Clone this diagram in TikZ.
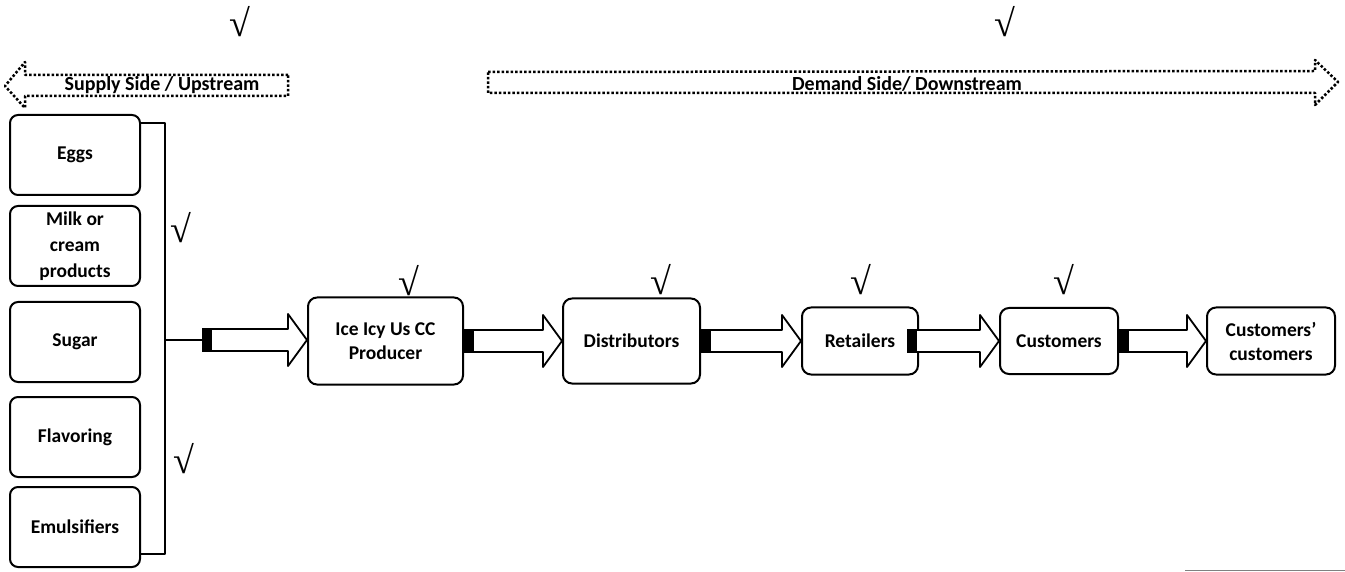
\documentclass[tikz,border=0pt]{standalone}
\usepackage{fontspec}
\setmainfont{Carlito}
\newfontfamily\chkfont{Liberation Serif}
\usetikzlibrary{calc, positioning}

% fat outlined arrow with a black tail, from #1 to #2.west
\newcommand{\fatarrow}[2]{%
    \fill let \p1=(#1) in (\x1,\y1-12pt) rectangle (\x1+9pt,\y1+12pt);
    \draw[fat] let \p1=(#1), \p2=(#2.west) in
        (\x1+9pt,\y1-11pt) -- (\x2-19pt,\y1-11pt) -- (\x2-19pt,\y1-26pt) -- (\x2,\y1)
        -- (\x2-19pt,\y1+26pt) -- (\x2-19pt,\y1+11pt) -- (\x1+9pt,\y1+11pt) -- cycle;
}

\begin{document}
\begin{tikzpicture}
    [
        x=1pt, y=-1pt, line join=round,
        supbox/.style={draw, rounded corners=8pt, line width=2pt, minimum width=130pt, minimum height=80pt, inner sep=2pt, align=center, font=\fontsize{19.5}{26}\selectfont\bfseries},
        flowbox/.style={draw, rounded corners=9pt, line width=2pt, inner sep=2pt, align=center, font=\fontsize{19.5}{24}\selectfont\bfseries},
        fat/.style={draw, fill=white, line width=1.8pt},
        dotline/.style={line width=2.5pt, dash pattern=on 2.5pt off 2pt},
        sidelabel/.style={anchor=base, inner sep=0pt, font=\fontsize{20}{24}\selectfont\bfseries},
        chk/.style={inner sep=0pt, font=\chkfont\fontsize{38}{38}\selectfont}
    ]
    \useasboundingbox (0,0) rectangle (1345,572);

    % supply / demand banners
    \draw[dotline] (288,75) -- (25,75) -- (25,62) -- (5,86) -- (25,108) -- (25,96) -- (288,96) -- cycle;
    \draw[dotline] (488,72) -- (1315,71) -- (1315,60) -- (1338,82) -- (1315,105) -- (1315,93) -- (488,93) -- cycle;
    \node[sidelabel] (supply) at (162,91) {Supply Side / Upstream};
    \node[sidelabel] (demand) at (907,91) {Demand Side/ Downstream};

    % raw materials
    \node[supbox] (eggs) at (75,155) {Eggs};
    \node[supbox, below of=eggs, node distance=91pt] (milk) {Milk or\\cream\\products};
    \node[supbox, below of=milk, node distance=96pt] (sugar) {Sugar};
    \node[supbox, below of=sugar, node distance=95pt] (flavor) {Flavoring};
    \node[supbox, below of=flavor, node distance=90pt] (emuls) {Emulsifiers};

    % bracket
    \draw[line width=2.5pt] ([yshift=-9pt]eggs.north east) -- ++(24,0) |- ([yshift=14pt]emuls.south east);
    \coordinate (bracemid) at (164,340);
    \coordinate (brace) at (202,340);
    \draw[line width=2.5pt] (bracemid) -- (brace);

    % chain
    \node[flowbox, minimum width=155pt, minimum height=87pt] (producer) at (385.5,341) {Ice Icy Us CC\\Producer};
    \node[flowbox, minimum width=137pt, minimum height=85pt, right of=producer, node distance=246pt] (distrib) {Distributors};
    \node[flowbox, minimum width=116pt, minimum height=67pt, right of=distrib, node distance=228.5pt] (retail) {Retailers};
    \node[flowbox, minimum width=118pt, minimum height=66pt, right of=retail, node distance=199pt] (cust) {Customers};
    \node[flowbox, minimum width=128pt, minimum height=67pt, right of=cust, node distance=212pt] (custcust) {Customers’\\customers};
    \coordinate (rtail) at ([xshift=-12pt]retail.east);

    \fatarrow{brace}{producer}
    \fatarrow{producer.east}{distrib}
    \fatarrow{distrib.east}{retail}
    \fatarrow{rtail}{cust}
    \fatarrow{cust.east}{custcust}

    % checks
    \node[chk] (chkup) at (240,22) {√};
    \node[chk] (chkdown) at (1005,22) {√};
    \node[chk] (chksa) at (181,228) {√};
    \node[chk] (chksb) at (184,459) {√};
    \node[chk] (chkp) at (409,281) {√};
    \node[chk] (chkd) at (661,280) {√};
    \node[chk] (chkr) at (861,280) {√};
    \node[chk] (chkc) at (1064,280) {√};

    \draw[gray, line width=1pt] (1185,570) -- (1345,570);
\end{tikzpicture}
\end{document}
